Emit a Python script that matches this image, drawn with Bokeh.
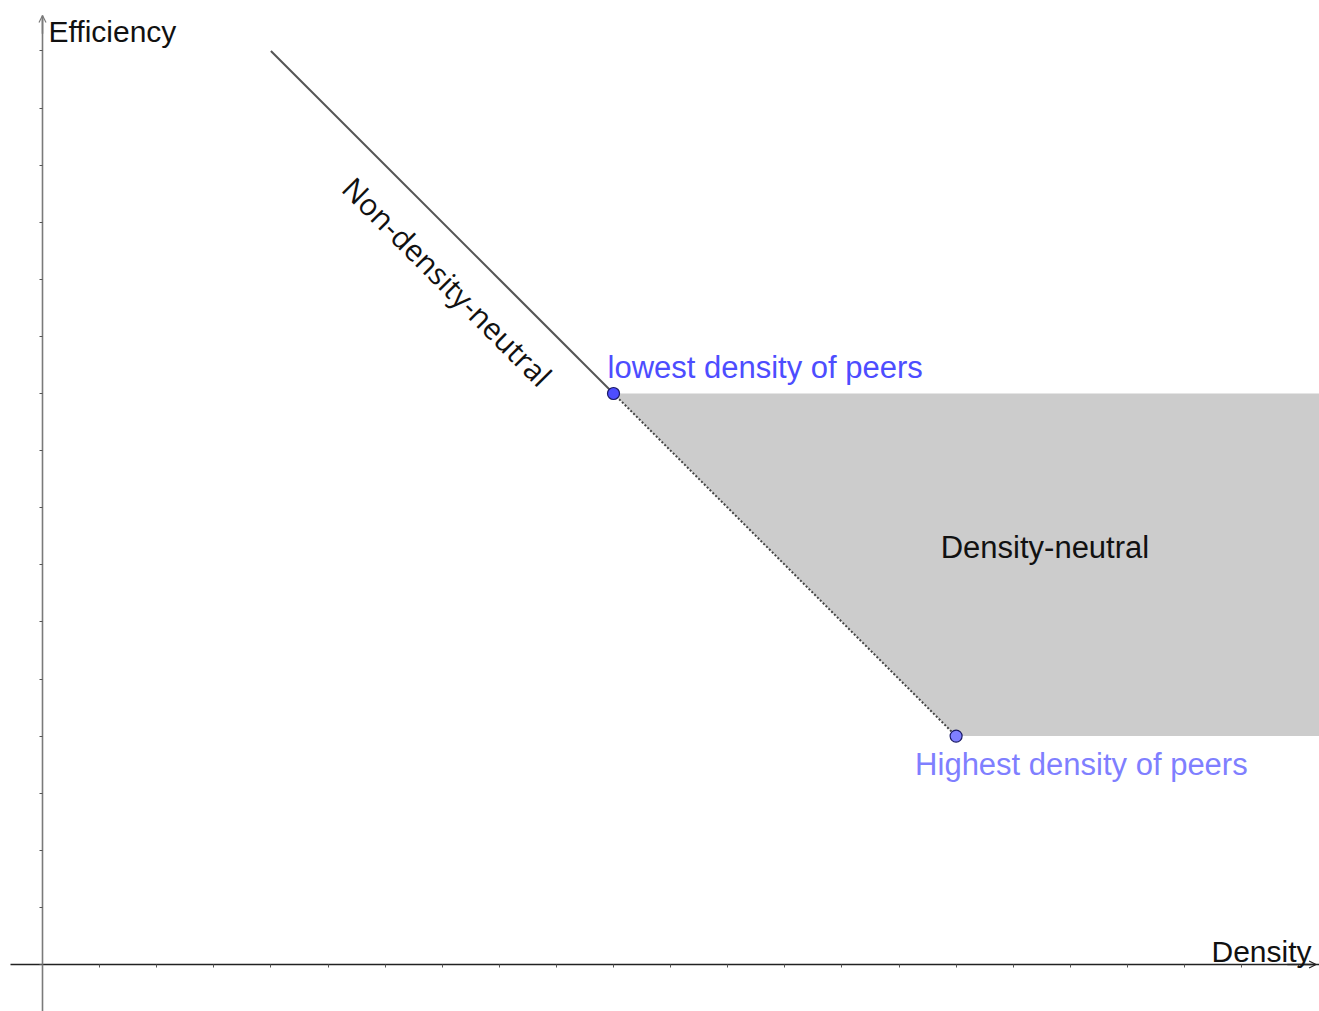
import math
from bokeh.plotting import figure
from bokeh.models import Range1d, SingleIntervalTicker, Label, Arrow, OpenHead
from bokeh.embed import file_html
from bokeh.resources import INLINE

# ---- data ----
frontier_x = [4, 10]          # solid "Non-density-neutral" segment
frontier_y = [16, 10]
dotted_x = [10, 16]           # dotted edge of the density-neutral region
dotted_y = [10, 4]
low_peer = (10, 10)           # lowest density of peers
high_peer = (16, 4)           # highest density of peers
x_axis_label = "Density"
y_axis_label = "Efficiency"

X0, X1 = -0.7356, 22.364
Y0, Y1 = -0.823, 16.883
Y_TOP = 16.62                  # end of the y axis arrow
X_START = -0.56                # start of the x axis line

p = figure(width=1319, height=1011, output_backend="svg", toolbar_location=None,
           x_range=Range1d(X0, X1), y_range=Range1d(Y0, Y1), min_border=0,
           x_axis_location="below", y_axis_location="left")
p.outline_line_color = None
p.xgrid.visible = False
p.ygrid.visible = False
p.background_fill_color = "white"
p.border_fill_color = "white"

for ax, col, lw in ((p.xaxis, "#222222", 1.3), (p.yaxis, "#7a7a7a", 1.6)):
    ax.fixed_location = 0
    ax.ticker = SingleIntervalTicker(interval=1, num_minor_ticks=0)
    ax.axis_line_color = col
    ax.axis_line_width = lw
    ax.major_tick_in = 0
    ax.major_tick_out = 3
    ax.major_tick_line_color = "#555555"
    ax.minor_tick_line_color = None
    ax.major_label_text_font_size = "0px"
    ax.major_label_text_color = None
p.xaxis.bounds = (X_START, X1)
p.yaxis.bounds = (Y0, Y_TOP)

# shaded density-neutral region
region_x = [low_peer[0], high_peer[0], X1 + 1, X1 + 1]
region_y = [low_peer[1], high_peer[1], high_peer[1], low_peer[1]]
p.patch(region_x, region_y, fill_color="#cccccc", line_color=None)

# lines
p.line(frontier_x, frontier_y, line_color="#555555", line_width=2)
p.line(dotted_x, dotted_y, line_color="#444444", line_width=2, line_dash="2 2")

# points
p.scatter([low_peer[0]], [low_peer[1]], size=12, fill_color="#4d4dff",
          line_color="#1a1a66", line_width=1.2)
p.scatter([high_peer[0]], [high_peer[1]], size=12, fill_color="#7f7fff",
          line_color="#1a1a66", line_width=1.2)

# axis arrows
p.add_layout(Arrow(end=OpenHead(size=7, line_color="#7a7a7a", line_width=1.2),
                   x_start=0, y_start=16.3, x_end=0, y_end=Y_TOP,
                   line_color="#7a7a7a", line_width=1.6))
p.add_layout(Arrow(end=OpenHead(size=7, line_color="#222222", line_width=1.2),
                   x_start=21.8, y_start=0, x_end=X1 - 0.06, y_end=0,
                   line_color="#222222", line_width=1.3))

FONT = "Liberation Sans"
# axis titles
p.add_layout(Label(x=0, y=Y1, x_offset=6, y_offset=-31, text=y_axis_label,
                   text_font=FONT, text_font_size="30px", text_color="#111111",
                   text_baseline="alphabetic", text_align="left"))
p.add_layout(Label(x=X1, y=0, x_offset=-8, y_offset=13, text=x_axis_label,
                   text_font=FONT, text_font_size="30px", text_color="#111111",
                   text_baseline="alphabetic", text_align="right"))

# point labels
p.add_layout(Label(x=low_peer[0], y=low_peer[1], x_offset=-6, y_offset=26,
                   text="lowest density of peers", text_font=FONT,
                   text_font_size="31px", text_color="#4d4dff",
                   text_baseline="alphabetic", text_align="left"))
p.add_layout(Label(x=high_peer[0], y=high_peer[1], x_offset=-41, y_offset=-28,
                   text="Highest density of peers", text_font=FONT,
                   text_font_size="31px", text_color="#7f7fff",
                   text_baseline="alphabetic", text_align="left"))

# region label
p.add_layout(Label(x=15.73, y=7.31, text="Density-neutral", text_font=FONT,
                   text_font_size="31px", text_color="#111111",
                   text_baseline="alphabetic", text_align="left"))

# rotated segment label
p.add_layout(Label(x=7.09, y=11.96, text="Non-density-neutral", text_font="Open Sans",
                   text_font_size="30px", text_color="#111111", angle=-math.pi / 4,
                   text_baseline="middle", text_align="center"))

open("out.html", "w").write(file_html(p, INLINE))
